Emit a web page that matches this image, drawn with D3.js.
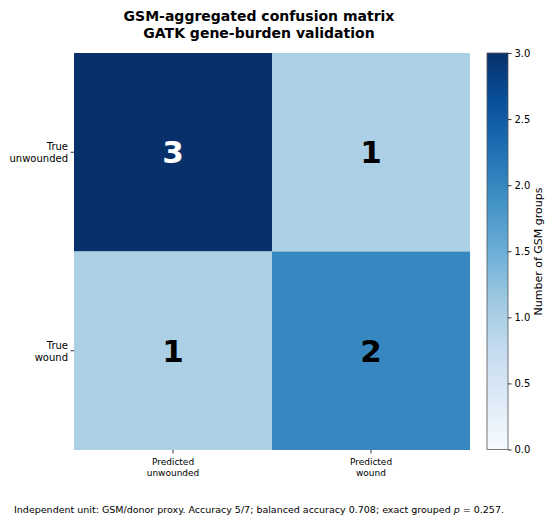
<!DOCTYPE html>
<html>
<head>
<meta charset="utf-8">
<script src="https://cdn.jsdelivr.net/npm/d3@7"></script>
<style>
  body { margin: 0; background: #fff; }
  text { font-family: "DejaVu Sans", sans-serif; }
</style>
</head>
<body>
<div id="chart"></div>
<script>
// data
var trueLabels = [["True", "unwounded"], ["True", "wound"]];
var predLabels = [["Predicted", "unwounded"], ["Predicted", "wound"]];
var counts = [
  [3, 1],
  [1, 2]
];
var cbarTicks = [0.0, 0.5, 1.0, 1.5, 2.0, 2.5, 3.0];
var titleLines = ["GSM-aggregated confusion matrix", "GATK gene-burden validation"];

var svgWidth = 550, svgHeight = 521;
var margin = { top: 53, left: 74 };
var width = 396, height = 397;

var svg = d3.select("#chart").append("svg")
  .attr("width", svgWidth)
  .attr("height", svgHeight);

// matplotlib "Blues"
var blues = ["#f7fbff", "#deebf7", "#c6dbef", "#9ecae1", "#6baed6", "#4292c6", "#2171b5", "#08519c", "#08306b"];
var color = d3.scaleLinear()
  .domain(d3.range(blues.length).map(i => i * 3 / (blues.length - 1)))
  .range(blues);

var cells = [];
counts.forEach(function(row, i) {
  row.forEach(function(v, j) { cells.push({ r: i, c: j, v: v }); });
});

var x = d3.scaleBand().domain([0, 1]).range([0, width]);
var y = d3.scaleBand().domain([0, 1]).range([0, height]);

var g = svg.append("g")
  .attr("transform", `translate(${margin.left}, ${margin.top})`);

g.selectAll("rect.cell")
  .data(cells)
  .enter()
  .append("rect")
  .attr("class", "cell")
  .attr("x", d => x(d.c))
  .attr("y", d => y(d.r))
  .attr("width", x.bandwidth())
  .attr("height", y.bandwidth())
  .attr("fill", d => color(d.v));

g.selectAll("text.val")
  .data(cells)
  .enter()
  .append("text")
  .attr("x", d => x(d.c) + x.bandwidth() / 2)
  .attr("y", d => y(d.r) + y.bandwidth() / 2)
  .attr("dy", "0.36em")
  .attr("text-anchor", "middle")
  .attr("font-size", "31px")
  .attr("font-weight", "bold")
  .attr("fill", d => d.v > 2.25 ? "#fff" : "#000")
  .text(d => d.v);

// y ticks
var yt = g.selectAll("g.ytick")
  .data(trueLabels)
  .enter()
  .append("g")
  .attr("transform", (d, i) => `translate(0, ${y(i) + y.bandwidth() / 2})`);
yt.append("line").attr("x1", -3.5).attr("x2", 0).attr("stroke", "#000").attr("stroke-width", 0.8);
yt.append("text")
  .attr("x", -6)
  .attr("text-anchor", "end")
  .attr("font-size", "10px")
  .selectAll("tspan")
  .data(d => d)
  .enter()
  .append("tspan")
  .attr("x", -6)
  .attr("y", (d, k) => k === 0 ? -2 : 10)
  .text(d => d);

// x ticks
var xt = g.selectAll("g.xtick")
  .data(predLabels)
  .enter()
  .append("g")
  .attr("transform", (d, i) => `translate(${x(i) + x.bandwidth() / 2}, ${height})`);
xt.append("line").attr("y1", 0).attr("y2", 3.5).attr("stroke", "#000").attr("stroke-width", 0.8);
xt.append("text")
  .attr("text-anchor", "middle")
  .attr("font-size", "9px")
  .selectAll("tspan")
  .data(d => d)
  .enter()
  .append("tspan")
  .attr("x", 0)
  .attr("y", (d, k) => 15 + k * 11)
  .text(d => d);

// colorbar
var cbX = 487, cbW = 21;
var defs = svg.append("defs");
var grad = defs.append("linearGradient")
  .attr("id", "cbgrad")
  .attr("x1", 0).attr("x2", 0).attr("y1", 1).attr("y2", 0);
grad.selectAll("stop")
  .data(blues)
  .enter()
  .append("stop")
  .attr("offset", (d, i) => i / (blues.length - 1))
  .attr("stop-color", d => d);

var cbScale = d3.scaleLinear().domain([0, 3]).range([margin.top + height - 0.5, margin.top]);
svg.append("rect")
  .attr("x", cbX)
  .attr("y", cbScale(3))
  .attr("width", cbW)
  .attr("height", cbScale(0) - cbScale(3))
  .attr("fill", "url(#cbgrad)")
  .attr("stroke", "#555")
  .attr("stroke-width", 0.8);

var cbAxis = d3.axisRight(cbScale)
  .tickValues(cbarTicks)
  .tickFormat(d3.format(".1f"))
  .tickSize(3.5)
  .tickPadding(3);
var cbG = svg.append("g")
  .attr("transform", `translate(${cbX + cbW}, 0)`)
  .call(cbAxis);
cbG.select(".domain").remove();
cbG.selectAll("text")
  .attr("font-size", "10px")
  .attr("font-family", "DejaVu Sans, sans-serif")
  .attr("fill", "#000");
cbG.selectAll("line").attr("stroke", "#000").attr("stroke-width", 0.8);

svg.append("text")
  .attr("transform", `translate(542, ${margin.top + height / 2}) rotate(-90)`)
  .attr("text-anchor", "middle")
  .attr("font-size", "11px")
  .text("Number of GSM groups");

// title
svg.append("text")
  .attr("text-anchor", "middle")
  .attr("font-size", "14px")
  .attr("font-weight", "bold")
  .selectAll("tspan")
  .data(titleLines)
  .enter()
  .append("tspan")
  .attr("x", 259)
  .attr("y", (d, i) => 21 + i * 16.5)
  .text(d => d);

// footer note
var foot = svg.append("text")
  .attr("x", 259)
  .attr("y", 513)
  .attr("text-anchor", "middle")
  .attr("font-size", "9.5px");
foot.append("tspan").text("Independent unit: GSM/donor proxy. Accuracy 5/7; balanced accuracy 0.708; exact grouped ");
foot.append("tspan").attr("font-style", "italic").text("p");
foot.append("tspan").text(" = 0.257.");
</script>
</body>
</html>
